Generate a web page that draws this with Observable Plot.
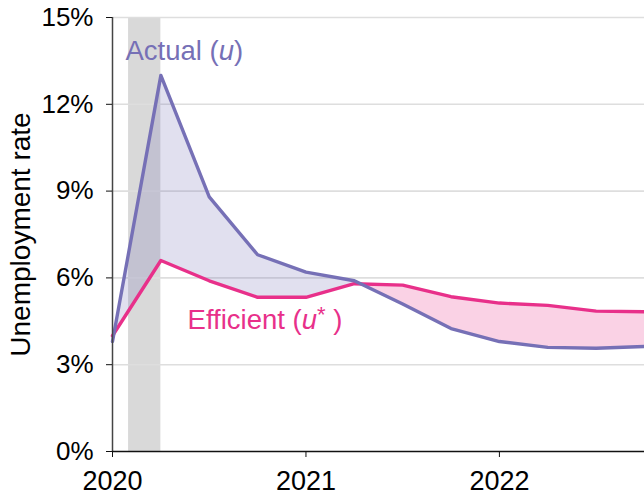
<!DOCTYPE html>
<html>
<head>
<meta charset="utf-8">
<script src="https://cdn.jsdelivr.net/npm/d3@7"></script>
<script src="https://cdn.jsdelivr.net/npm/@observablehq/plot@0.6"></script>
<style>
  html, body { margin: 0; padding: 0; background: #fff; }
  #chart svg { display: block; }
</style>
</head>
<body>
<div id="chart"></div>
<script>
// Quarterly dates (decimal years)
const quarters = [2020.0, 2020.25, 2020.5, 2020.75, 2021.0, 2021.25, 2021.5, 2021.75, 2022.0, 2022.25, 2022.5, 2022.75];
// Actual unemployment rate u (%)
const actual = [3.8, 13.0, 8.8, 6.8, 6.2, 5.9, 5.1, 4.25, 3.8, 3.6, 3.57, 3.63];
// Efficient unemployment rate u* (%)
const efficient = [4.0, 6.6, 5.9, 5.33, 5.33, 5.8, 5.75, 5.35, 5.13, 5.05, 4.85, 4.83];
// Recession shading
const recessionStart = [2020.083];
const recessionEnd = [2020.25];
// Tick values
const xTicks = [2020, 2021, 2022];
const yTicks = [0, 3, 6, 9, 12, 15];
const gridTicks = [3, 6, 9, 12, 15];
// Labels
const labelX = [2020.067, 2020.388];
const labelY = [13.85, 4.53];
const labelKey = ["actual", "efficient"];

const purple = "#7670b6";
const pink = "#e8308a";

const data = quarters.map((q, i) => ({date: q, actual: actual[i], efficient: efficient[i]}));
const recession = recessionStart.map((s, i) => ({start: s, end: recessionEnd[i]}));
const labels = labelKey.map((k, i) => ({key: k, x: labelX[i], y: labelY[i]}));

const fillMarks = (typeof Plot.differenceY === "function")
  ? [Plot.differenceY(data, {x: "date", y1: "efficient", y2: "actual",
      positiveFill: purple, negativeFill: pink, fillOpacity: 0.22, stroke: "none"})]
  : [
      Plot.areaY(data, {x: "date", y1: "efficient", y2: d => Math.max(d.actual, d.efficient), fill: purple, fillOpacity: 0.22}),
      Plot.areaY(data, {x: "date", y1: "actual", y2: d => Math.max(d.actual, d.efficient), fill: pink, fillOpacity: 0.22})
    ];

const chart = Plot.plot({
  width: 644,
  height: 495,
  marginLeft: 112,
  marginRight: 0,
  marginTop: 17,
  marginBottom: 44,
  style: {fontFamily: "'Liberation Sans', Arial, Helvetica, sans-serif", fontSize: "26px", background: "#fff", overflow: "visible"},
  x: {domain: [2020, 2022.75]},
  y: {domain: [0, 15]},
  marks: [
    Plot.rectX(recession, {x1: "start", x2: "end", y1: 0, y2: 15, fill: "#d9d9d9"}),
    Plot.gridY({ticks: gridTicks, stroke: "#dedede", strokeOpacity: 1, strokeWidth: 1.6}),
    ...fillMarks,
    Plot.lineY(data, {x: "date", y: "efficient", stroke: pink, strokeWidth: 3.4}),
    Plot.lineY(data, {x: "date", y: "actual", stroke: purple, strokeWidth: 3.4}),
    Plot.ruleX([2020], {y1: 0, y2: 15, stroke: "#444", strokeWidth: 1.5}),
    Plot.ruleY([0], {stroke: "#111", strokeWidth: 1.5}),
    Plot.axisX({ticks: xTicks, tickFormat: d => String(d), tickSize: 6, tickPadding: 13, fontSize: 27, label: null, stroke: "#111"}),
    Plot.axisY({ticks: yTicks, tickFormat: d => d + "%", tickSize: 6, tickPadding: 13, fontSize: 26,
      label: null, stroke: "#111"}),
    Plot.axisY({ticks: [], tickSize: 0, fontSize: 28,
      label: "Unemployment rate", labelAnchor: "center", labelArrow: "none", labelOffset: 102}),
    Plot.text(labels, {x: "x", y: "y", text: d => d.key, textAnchor: "start", fontSize: 27.5,
      fill: d => d.key === "actual" ? purple : pink, className: "serieslabel"})
  ]
});

// rich text for labels: italic u, superscript asterisk
chart.querySelectorAll("g.serieslabel text, .serieslabel text").forEach(t => {
  const key = t.textContent;
  const ns = "http://www.w3.org/2000/svg";
  t.textContent = "";
  const parts = key === "actual"
    ? [["Actual (", null], ["u", "italic"], [")", null]]
    : [["Efficient (", null], ["u", "italic"], ["*", "sup"], [" )", null]];
  parts.forEach(([s, st]) => {
    const ts = document.createElementNS(ns, "tspan");
    ts.textContent = s;
    if (st === "italic") ts.setAttribute("font-style", "italic");
    if (st === "sup") { ts.setAttribute("font-size", "0.8em"); ts.setAttribute("baseline-shift", "30%"); }
    t.appendChild(ts);
  });
});

document.getElementById("chart").appendChild(chart);
</script>
</body>
</html>
